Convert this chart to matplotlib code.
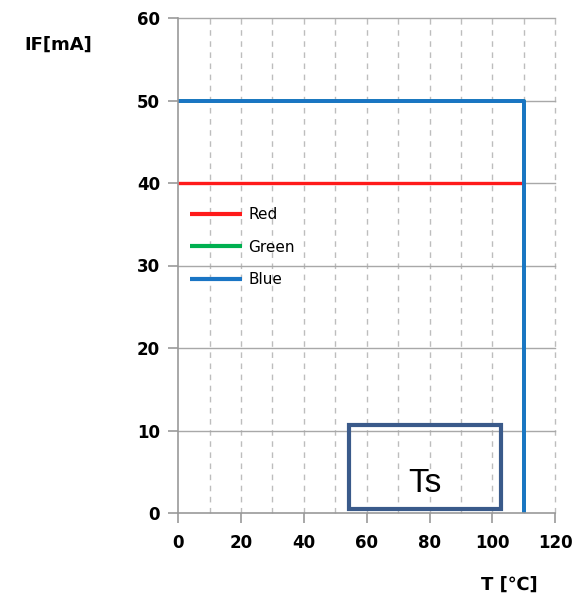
import matplotlib.pyplot as plt
from matplotlib.patches import Rectangle

# derating curves: temperature [C] vs forward current [mA]
red_t = [0, 110]
red_if = [40, 40]
green_t = [0, 110, 110]
green_if = [50, 50, 0]
blue_t = [0, 110, 110]
blue_if = [50, 50, 0]

# Ts box (x0, y0, width, height) in data units
ts_box = (54.5, 0.5, 48.4, 10.2)
x_ticks = [0, 20, 40, 60, 80, 100, 120]
y_ticks = [0, 10, 20, 30, 40, 50, 60]

fig = plt.figure(figsize=(5.82, 6.0), dpi=100)
ax = fig.add_axes([0.306, 0.145, 0.648, 0.825])

# grid: vertical dashed every 10, horizontal solid every 10
for x in range(10, 121, 10):
    ax.axvline(x, color='#bdbdbd', linestyle=(0, (4, 4)), linewidth=1, zorder=0, clip_on=False)
for y in range(10, 61, 10):
    ax.axhline(y, color='#a8a8a8', linewidth=1, zorder=0, clip_on=False)

ax.plot(red_t, red_if, color='#ff1a1a', linewidth=2.4, label='Red', solid_capstyle='butt')
ax.plot(green_t, green_if, color='#00b050', linewidth=2.6, label='Green', solid_capstyle='butt')
ax.plot(blue_t, blue_if, color='#1a75c4', linewidth=2.8, label='Blue', solid_capstyle='butt')

ax.add_patch(Rectangle(ts_box[:2], ts_box[2], ts_box[3], fill=False,
                       edgecolor='#3a5a8a', linewidth=3, zorder=5))
ax.text(ts_box[0] + ts_box[2] / 2, 3.6, 'Ts', fontsize=24, family='Liberation Sans',
        ha='center', va='center', zorder=6)

ax.set_xlim(0, 120)
ax.set_ylim(0, 60)
ax.set_xticks(x_ticks)
ax.set_yticks(y_ticks)
for lab in ax.get_xticklabels() + ax.get_yticklabels():
    lab.set_fontweight('bold')
    lab.set_fontsize(12)
ax.tick_params(colors='#999999', labelcolor='black', length=7, width=1.2)
ax.tick_params(axis='y', pad=6)
ax.tick_params(axis='x', pad=8)

for s in ['top', 'right']:
    ax.spines[s].set_visible(False)
for s in ['left', 'bottom']:
    ax.spines[s].set_color('#999999')
    ax.spines[s].set_linewidth(1.2)

leg = ax.legend(loc='center left', bbox_to_anchor=(0.032, 0.537), frameon=False, fontsize=11,
                handlelength=3.4, labelspacing=1.15, handletextpad=0.4,
                borderaxespad=0, borderpad=0)
for h in leg.get_lines():
    h.set_linewidth(3)

fig.text(0.1, 0.925, 'IF[mA]', fontsize=13, fontweight='bold', ha='center', va='center')
fig.text(0.875, 0.025, 'T [℃]', fontsize=13, fontweight='bold', ha='center', va='center')

plt.savefig('out.png', dpi=100)
plt.close()
